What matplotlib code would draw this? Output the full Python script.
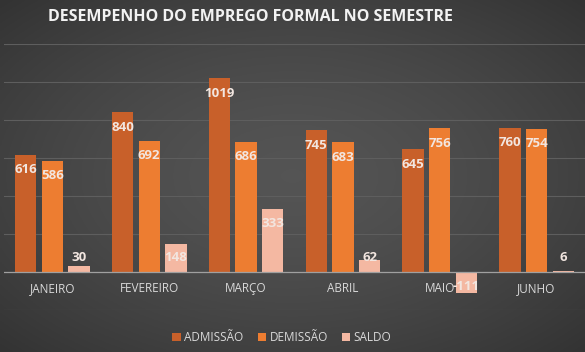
import numpy as np
import matplotlib
matplotlib.use("Agg")
import matplotlib.pyplot as plt

# Dados do semestre
meses = ["JANEIRO", "FEVEREIRO", "MARÇO", "ABRIL", "MAIO", "JUNHO"]
admissao = [616, 840, 1019, 745, 645, 760]
demissao = [586, 692, 686, 683, 756, 754]
saldo = [30, 148, 333, 62, -111, 6]

series = [("ADMISSÃO", admissao, "#c8602a"),
          ("DEMISSÃO", demissao, "#ed7d31"),
          ("SALDO", saldo, "#f4b8a2")]

plt.rcParams['font.family'] = ['Open Sans', 'DejaVu Sans']

fig = plt.figure(figsize=(5.85, 3.52), dpi=100)

# fundo com gradiente radial (centro mais claro)
bg = fig.add_axes([0, 0, 1, 1])
yy, xx = np.mgrid[-1:1:200j, -1:1:300j]
r = np.clip(np.sqrt(xx**2 + yy**2) / np.sqrt(2), 0, 1)
cinza = 0.33 - 0.13 * r**1.5
img = np.dstack([cinza, cinza, cinza])
bg.imshow(img, aspect="auto", extent=[0, 1, 0, 1])
bg.axis("off")

ax = fig.add_axes([4 / 585, 42 / 352, 581 / 585, 266 / 352])
ax.patch.set_alpha(0)

x = np.arange(len(meses))
largura = 0.22
desloc = [-0.275, 0, 0.275]

for (nome, valores, cor), d in zip(series, desloc):
    ax.bar(x + d, valores, largura, color=cor, label=nome, zorder=3)
    for xi, v in zip(x + d, valores):
        if v >= 0:
            yl = max(v - 78, 78)
        else:
            yl = min(v + 78, -78)
        ax.text(xi, yl, str(v), ha="center", va="center", fontsize=9.5,
                fontweight="bold", color="#f2e6e0", zorder=4)

ax.set_ylim(-200, 1200)
ax.set_xlim(-0.5, len(meses) - 0.5)
ax.set_yticks(np.arange(-200, 1201, 200))
ax.yaxis.grid(True, color="#5e5e5e", linewidth=0.8, zorder=0)
ax.axhline(0, color="#a0a0a0", linewidth=0.9, zorder=5)
ax.tick_params(axis="y", left=False, labelleft=False)
ax.tick_params(axis="x", bottom=False, labelbottom=False)
for s in ax.spines.values():
    s.set_visible(False)

for xi, m in zip(x, meses):
    ax.text(xi, -88, m, ha="center", va="center", fontsize=8.5, color="#d9d9d9", zorder=2)

fig.text(0.428, 0.951, "DESEMPENHO DO EMPREGO FORMAL NO SEMESTRE", ha="center", va="center",
         fontsize=11.5, fontweight="bold", color="#f2f2f2")

leg = fig.legend(loc="center", bbox_to_anchor=(0.482, 0.04), ncol=3, frameon=False,
                 fontsize=8.5, handlelength=0.7, handleheight=0.7, handletextpad=0.3,
                 columnspacing=1.2)
for t in leg.get_texts():
    t.set_color("#d9d9d9")

fig.savefig("out.png", dpi=100)
